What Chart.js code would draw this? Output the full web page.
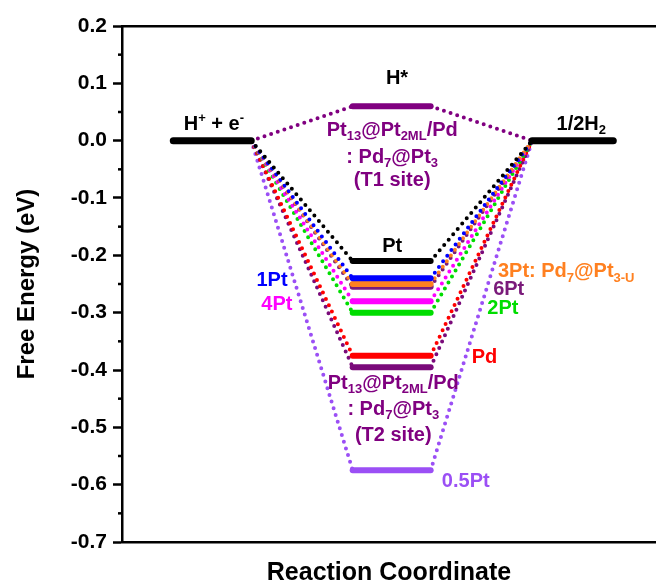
<!DOCTYPE html>
<html lang="en">
  <head>
    <meta charset="UTF-8" />
    <title>HER Free Energy Diagram</title>
    <script src="https://cdn.jsdelivr.net/npm/chart.js"></script>
    <style>
      html, body { margin: 0; padding: 0; background: #fff; }
      .chart-box { width: 656px; height: 588px; }
    </style>
  </head>
  <body>
    <div class="chart-box"><canvas id="energyChart"></canvas></div>

    <script>
      // data (free energy in eV)
      const initialEnergy = 0.0; // H+ + e-
      const finalEnergy = 0.0; // 1/2 H2
      const systems = ["T1", "Pt", "1Pt", "3Pt", "6Pt", "4Pt", "2Pt", "Pd", "T2", "0.5Pt"];
      const hStarEnergies = [0.06, -0.21, -0.24, -0.25, -0.255, -0.28, -0.3, -0.375, -0.395, -0.575];
      const systemColors = ["#800080", "#000000", "#0000ff", "#ff8020", "#7a1a7a", "#ff00ff", "#00dd00", "#ff0000", "#7a0a7a", "#9b4ff5"];
      const yTickValues = [0.2, 0.1, 0.0, -0.1, -0.2, -0.3, -0.4, -0.5, -0.6, -0.7];

      // horizontal placement of the three states on the reaction coordinate
      const pos = { l0: 0.96, l1: 2.42, m0: 4.32, m1: 5.78, r0: 7.68, r1: 9.2 };
      const FONT = '"Liberation Sans", Arial, sans-serif';

      const datasets = [];
      // energy levels (drawn on top)
      datasets.push({ data: [{ x: pos.l0, y: initialEnergy }, { x: pos.l1, y: initialEnergy }], borderColor: "#000", borderWidth: 7, borderCapStyle: "round", order: 0 });
      datasets.push({ data: [{ x: pos.r0, y: finalEnergy }, { x: pos.r1, y: finalEnergy }], borderColor: "#000", borderWidth: 7, borderCapStyle: "round", order: 0 });
      systems.forEach((s, i) => {
        datasets.push({
          label: s,
          data: [{ x: pos.m0, y: hStarEnergies[i] }, { x: pos.m1, y: hStarEnergies[i] }],
          borderColor: systemColors[i],
          borderWidth: 6,
          borderCapStyle: "round",
          order: 0,
        });
      });
      // dotted connectors
      systems.forEach((s, i) => {
        datasets.push({
          label: s + " path",
          data: [
            { x: pos.l1, y: initialEnergy },
            { x: pos.m0, y: hStarEnergies[i] },
            { x: (pos.m0 + pos.m1) / 2, y: null },
            { x: pos.m1, y: hStarEnergies[i] },
            { x: pos.r0, y: finalEnergy },
          ],
          borderColor: systemColors[i],
          borderWidth: 4,
          borderDash: [0, 7],
          borderCapStyle: "round",
          spanGaps: false,
          order: 1,
        });
      });

      // text labels: [x, y, align, color, parts]; parts are [text, "n" | "sub" | "sup"]
      const purple = "#800080";
      const notes = [
        [1.72, 0.031, "center", "#000", [["H", "n"], ["+", "sup"], [" + e", "n"], ["-", "sup"]]],
        [5.15, 0.112, "center", "#000", [["H*", "n"]]],
        [8.6, 0.031, "center", "#000", [["1/2H", "n"], ["2", "sub"]]],
        [5.06, 0.021, "center", purple, [["Pt", "n"], ["13", "sub"], ["@Pt", "n"], ["2ML", "sub"], ["/Pd", "n"]]],
        [5.06, -0.026, "center", purple, [[": Pd", "n"], ["7", "sub"], ["@Pt", "n"], ["3", "sub"]]],
        [5.06, -0.067, "center", purple, [["(T1 site)", "n"]]],
        [5.06, -0.182, "center", "#000", [["Pt", "n"]]],
        [2.81, -0.2415, "center", "#0000ff", [["1Pt", "n"]]],
        [2.9, -0.282, "center", "#ff00ff", [["4Pt", "n"]]],
        [7.04, -0.226, "left", "#ff8020", [["3Pt: Pd", "n"], ["7", "sub"], ["@Pt", "n"], ["3-U", "sub"]]],
        [6.95, -0.257, "left", "#7a1a7a", [["6Pt", "n"]]],
        [6.84, -0.29, "left", "#00dd00", [["2Pt", "n"]]],
        [6.55, -0.3745, "left", "#ff0000", [["Pd", "n"]]],
        [5.08, -0.42, "center", purple, [["Pt", "n"], ["13", "sub"], ["@Pt", "n"], ["2ML", "sub"], ["/Pd", "n"]]],
        [5.08, -0.4655, "center", purple, [[": Pd", "n"], ["7", "sub"], ["@Pt", "n"], ["3", "sub"]]],
        [5.08, -0.511, "center", purple, [["(T2 site)", "n"]]],
        [5.99, -0.5915, "left", "#9b4ff5", [["0.5Pt", "n"]]],
      ];

      function drawRich(ctx, parts, x, y, align, color, size) {
        const small = Math.round(size * 0.65);
        const fontOf = (k) => "bold " + (k === "n" ? size : small) + "px " + FONT;
        let total = 0;
        parts.forEach(([t, k]) => { ctx.font = fontOf(k); total += ctx.measureText(t).width; });
        let cx = align === "center" ? x - total / 2 : x;
        const base = y + size * 0.36;
        ctx.fillStyle = color;
        ctx.textBaseline = "alphabetic";
        ctx.textAlign = "left";
        parts.forEach(([t, k]) => {
          ctx.font = fontOf(k);
          let dy = 0;
          if (k === "sub") dy = size * 0.22;
          if (k === "sup") dy = -size * 0.42;
          ctx.fillText(t, cx, base + dy);
          cx += ctx.measureText(t).width;
        });
      }

      const notesPlugin = {
        id: "notes",
        afterDatasetsDraw(chart) {
          const { ctx, scales } = chart;
          ctx.save();
          notes.forEach(([x, y, align, color, parts]) => {
            drawRich(ctx, parts, scales.x.getPixelForValue(x), scales.y.getPixelForValue(y), align, color, 20);
          });
          ctx.restore();
        },
        afterDraw(chart) {
          // minor ticks between labelled ticks
          const { ctx, scales } = chart;
          const y = scales.y;
          ctx.save();
          ctx.strokeStyle = "#000";
          ctx.lineWidth = 2.5;
          for (let i = 0; i < yTickValues.length - 1; i++) {
            const py = y.getPixelForValue((yTickValues[i] + yTickValues[i + 1]) / 2);
            ctx.beginPath();
            ctx.moveTo(y.right - 4, py);
            ctx.lineTo(y.right, py);
            ctx.stroke();
          }
          ctx.restore();
        },
      };

      new Chart(document.getElementById("energyChart"), {
        type: "line",
        data: { datasets: datasets },
        options: {
          responsive: true,
          maintainAspectRatio: false,
          animation: false,
          layout: { padding: 0 },
          elements: { point: { radius: 0, hoverRadius: 0 }, line: { tension: 0 } },
          plugins: { legend: { display: false }, tooltip: { enabled: false } },
          scales: {
            x: {
              type: "linear",
              min: 0,
              max: 10,
              grid: { display: false },
              ticks: { display: false },
              border: { display: true, color: "#000", width: 2.5 },
              title: {
                display: true,
                text: "Reaction Coordinate",
                color: "#000",
                font: { family: FONT, size: 25, weight: "bold" },
                padding: { top: 0, bottom: 0 },
              },
              afterFit: (s) => { s.height = 46; },
            },
            x2: {
              type: "linear",
              position: "top",
              min: 0,
              max: 10,
              grid: { display: false },
              ticks: { display: false },
              border: { display: true, color: "#000", width: 2.5 },
              afterFit: (s) => { s.height = 26; },
            },
            y: {
              min: -0.7,
              max: 0.2,
              afterBuildTicks: (s) => { s.ticks = yTickValues.map((v) => ({ value: v })); },
              ticks: {
                color: "#000",
                padding: 6,
                font: { family: FONT, size: 21, weight: "bold" },
                callback: (v) => Number(v).toFixed(1),
              },
              grid: { drawOnChartArea: false, drawTicks: true, tickLength: 9, tickWidth: 2.5, tickColor: "#000" },
              border: { display: true, color: "#000", width: 2.5 },
              title: {
                display: true,
                text: "Free Energy (eV)",
                color: "#000",
                font: { family: FONT, size: 24, weight: "bold" },
                padding: { top: 13, bottom: 0 },
              },
              afterFit: (s) => { s.width = 122; },
            },
          },
        },
        plugins: [notesPlugin],
      });
    </script>
  </body>
</html>
